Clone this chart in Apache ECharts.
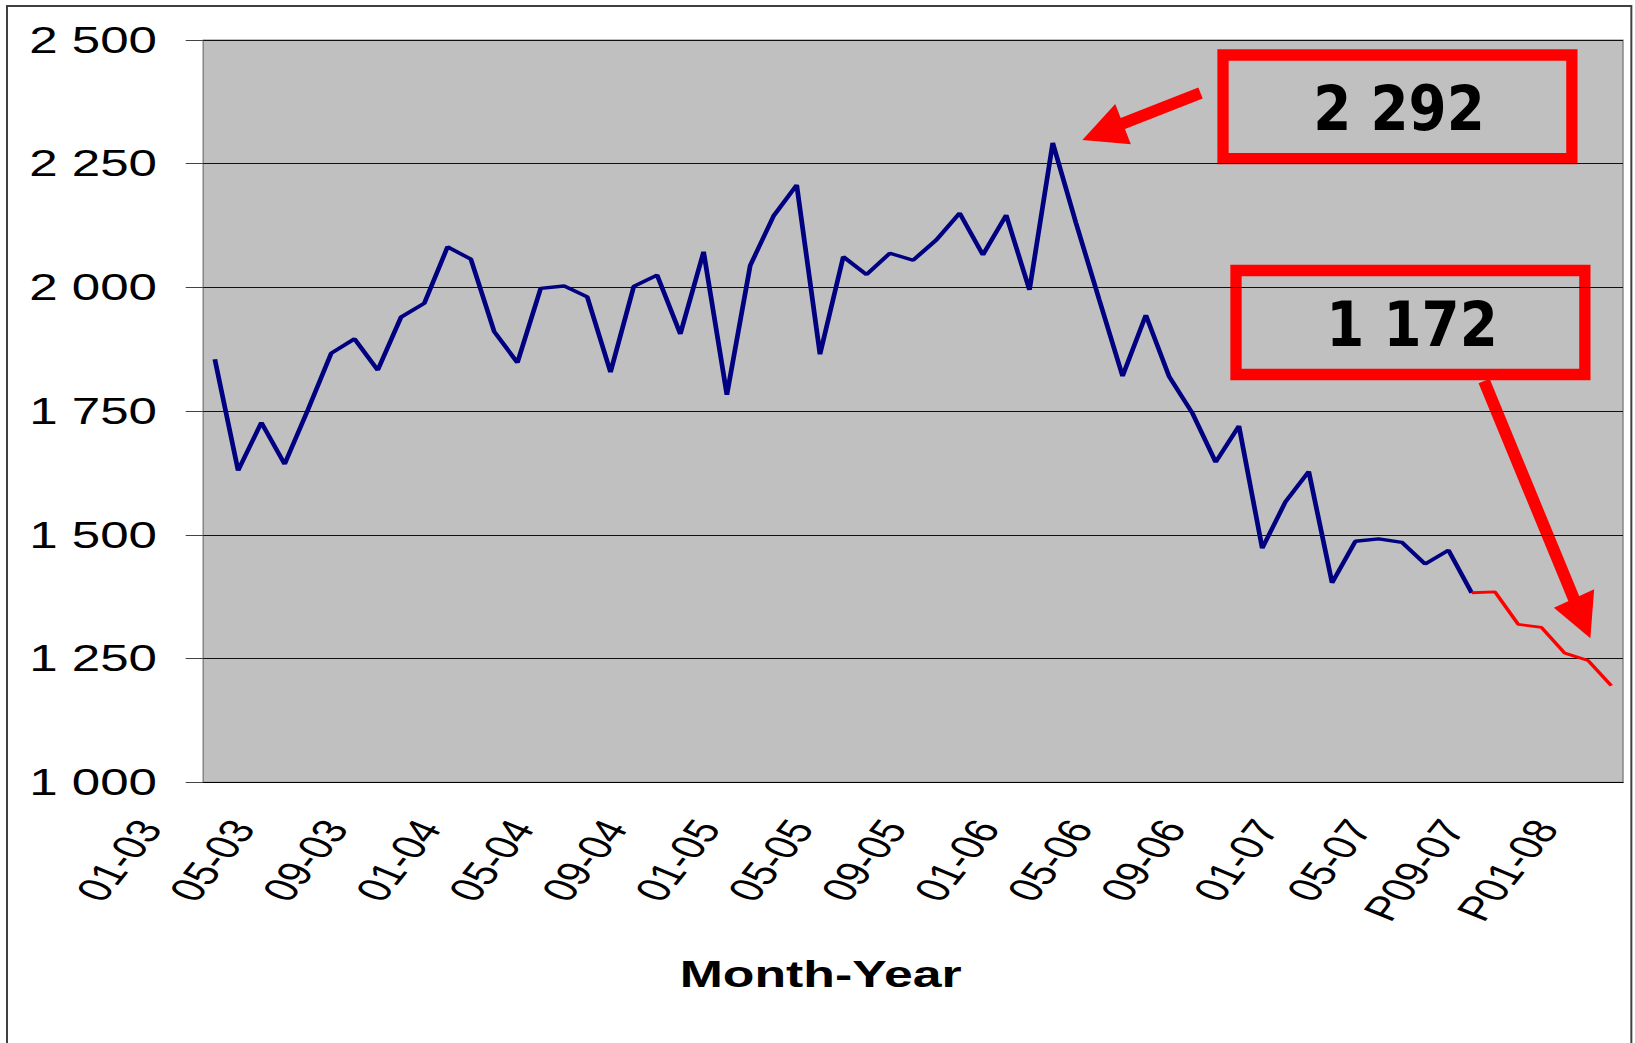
<!DOCTYPE html>
<html>
<head>
<meta charset="utf-8">
<script src="https://cdn.jsdelivr.net/npm/echarts@6/dist/echarts.min.js"></script>
<style>
html, body { margin: 0; padding: 0; background: #fff; overflow: hidden; }
/* the source chart is an Excel chart stretched sideways, so the whole drawing is stretched too */
#chart { position: absolute; left: 0; top: 0; width: 1167.857px; height: 1043px;
         transform: scaleX(1.4); transform-origin: 0 0; }
</style>
</head>
<body>
<div id="chart"></div>
<script type="text/javascript">
var S = 1.4; // horizontal stretch of the page

var months = ['01-03','02-03','03-03','04-03','05-03','06-03','07-03','08-03','09-03','10-03','11-03','12-03',
              '01-04','02-04','03-04','04-04','05-04','06-04','07-04','08-04','09-04','10-04','11-04','12-04',
              '01-05','02-05','03-05','04-05','05-05','06-05','07-05','08-05','09-05','10-05','11-05','12-05',
              '01-06','02-06','03-06','04-06','05-06','06-06','07-06','08-06','09-06','10-06','11-06','12-06',
              '01-07','02-07','03-07','04-07','05-07','06-07','07-07',
              'P08-07','P09-07','P10-07','P11-07','P12-07','P01-08'];

// actual monthly figures, 01-03 .. 07-07
var actual = [1855, 1630, 1727, 1643, 1753, 1867, 1896, 1833, 1940, 1968, 2082, 2057,
              1911, 1848, 1998, 2003, 1981, 1829, 2002, 2025, 1906, 2072, 1783, 2044,
              2144, 2207, 1865, 2062, 2026, 2069, 2055, 2096, 2150, 2066, 2146, 1995,
              2292, 2130, 1975, 1821, 1944, 1820, 1746, 1647, 1720, 1473, 1567, 1628,
              1403, 1487, 1492, 1485, 1441, 1469, 1383];

// projection, starting at 07-07
var projected = [1383, 1385, 1319, 1313, 1261, 1246, 1195];

var yTicks = [1000, 1250, 1500, 1750, 2000, 2250, 2500];

var callouts = ['2 292', '1 172'];

var projData = [];
for (var i = 0; i < actual.length - 1; i++) projData.push('-');
projData = projData.concat(projected);

function fmt(v) {
    var k = Math.floor(v / 1000), r = String(v % 1000);
    while (r.length < 3) r = '0' + r;
    return k > 0 ? k + ' ' + r : r;
}

var chart = echarts.init(document.getElementById('chart'), null, { renderer: 'svg' });

chart.setOption({
    animation: false,
    backgroundColor: '#fff',
    grid: {
        left: 203.2 / S, right: 12.2 / S, top: 40, bottom: 260.7,
        show: true, backgroundColor: '#C0C0C0', borderColor: '#808080', borderWidth: 1
    },
    xAxis: {
        type: 'category',
        data: months,
        boundaryGap: true,
        axisLine: { lineStyle: { color: '#000', width: 1 } },
        axisTick: { interval: 0, length: 11, lineStyle: { color: '#333' } },
        axisLabel: {
            interval: 3, rotate: 60, margin: -40, padding: [0, 93, 0, 0],
            color: '#000', fontFamily: 'Liberation Sans, Arial', fontSize: 34
        },
        splitLine: { show: false }
    },
    yAxis: {
        type: 'value',
        min: yTicks[0], max: yTicks[yTicks.length - 1], interval: 250,
        axisLine: { show: false },
        axisTick: { show: true, length: 12.5, lineStyle: { color: '#444' } },
        axisLabel: {
            margin: 33, color: '#000', fontFamily: 'Liberation Sans, Arial', fontSize: 36.5,
            formatter: fmt
        },
        splitLine: { lineStyle: { color: '#111', width: 1 } }
    },
    series: [
        {
            name: 'actual', type: 'line', data: actual, symbol: 'none',
            lineStyle: { color: '#000080', width: 3.4 }, z: 3
        },
        {
            name: 'projected', type: 'line', data: projData, symbol: 'none',
            lineStyle: { color: '#FF0000', width: 2.8 }, z: 3
        }
    ],
    graphic: [
        {
            type: 'text', x: 820.7 / S, y: 974, z: 10,
            style: {
                text: 'Month-Year', font: 'bold 37px "Liberation Sans", Arial', fill: '#000',
                align: 'center', verticalAlign: 'middle', textAlign: 'center', textVerticalAlign: 'middle'
            }
        },
        {
            // overlay drawn in real page pixels (undo the stretch)
            type: 'group', x: 0, y: 0, scaleX: 1 / S, z: 100,
            children: [
                { type: 'rect', shape: { x: 7, y: 6, width: 1625, height: 1060 },
                  style: { fill: 'none', stroke: '#404040', lineWidth: 2 } },
                { type: 'rect', shape: { x: 1223.5, y: 55, width: 349, height: 103.7 },
                  style: { fill: 'none', stroke: '#FF0000', lineWidth: 11.3 } },
                { type: 'rect', shape: { x: 1236.5, y: 270.5, width: 349, height: 104 },
                  style: { fill: 'none', stroke: '#FF0000', lineWidth: 11.3 } },
                { type: 'line', shape: { x1: 1201, y1: 93, x2: 1122, y2: 124 },
                  style: { stroke: '#FF0000', lineWidth: 12 } },
                { type: 'polygon', shape: { points: [[1082.8, 140], [1115.7, 104], [1131.3, 144.3]] },
                  style: { fill: '#FF0000' } },
                { type: 'line', shape: { x1: 1484.7, y1: 381, x2: 1575, y2: 600 },
                  style: { stroke: '#FF0000', lineWidth: 12 } },
                { type: 'polygon', shape: { points: [[1591, 638.3], [1554.5, 607.7], [1594.8, 589.3]] },
                  style: { fill: '#FF0000' } },
                { type: 'text', x: 1399, y: 108.5, scaleX: 0.87,
                  style: { text: callouts[0], font: 'bold 63px "DejaVu Sans"', fill: '#000',
                           align: 'center', verticalAlign: 'middle', textAlign: 'center', textVerticalAlign: 'middle' } },
                { type: 'text', x: 1412, y: 324.5, scaleX: 0.87,
                  style: { text: callouts[1], font: 'bold 63px "DejaVu Sans"', fill: '#000',
                           align: 'center', verticalAlign: 'middle', textAlign: 'center', textVerticalAlign: 'middle' } }
            ]
        }
    ]
});
</script>
</body>
</html>
